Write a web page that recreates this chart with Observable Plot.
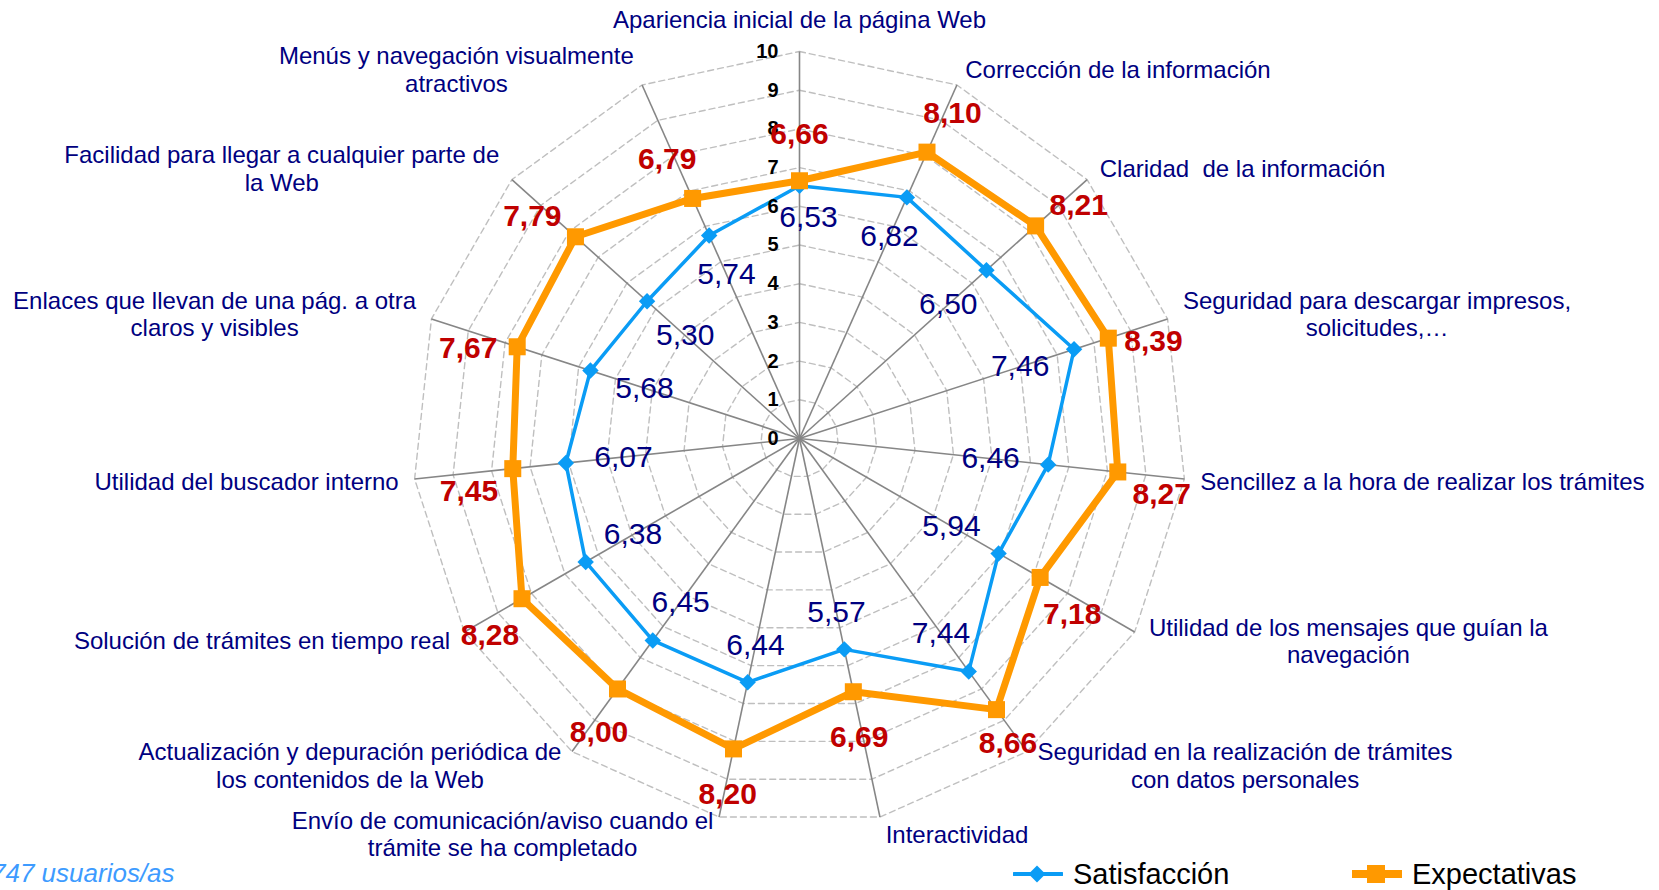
<!DOCTYPE html>
<html><head><meta charset="utf-8">
<script src="https://cdn.jsdelivr.net/npm/d3@7"></script>
<script src="https://cdn.jsdelivr.net/npm/@observablehq/plot@0.6"></script>
<style>
html,body{margin:0;padding:0;background:#fff;overflow:hidden}
#wrap{position:relative;width:1659px;height:890px;font-family:"Liberation Sans",Arial,sans-serif}
#chart{position:absolute;left:0;top:0}
#caption{position:absolute;left:-9px;top:858px;font-size:26px;font-style:italic;color:#3d9bff;white-space:nowrap}
.leg{position:absolute;top:855px;display:flex;align-items:center;font-size:29px;color:#000;white-space:nowrap;height:38px}
.leg svg{margin-right:10px}
</style></head>
<body><div id="wrap"><div id="chart"></div>
<div id="caption"></div>
<div class="leg" id="leg0" style="left:1013px"></div>
<div class="leg" id="leg1" style="left:1352px"></div>
</div>
<script>
// ---- data ----
const categories = [
  "Apariencia inicial de la página Web",
  "Corrección de la información",
  "Claridad  de la información",
  "Seguridad para descargar impresos,\nsolicitudes,…",
  "Sencillez a la hora de realizar los trámites",
  "Utilidad de los mensajes que guían la\nnavegación",
  "Seguridad en la realización de trámites\ncon datos personales",
  "Interactividad",
  "Envío de comunicación/aviso cuando el\ntrámite se ha completado",
  "Actualización y depuración periódica de\nlos contenidos de la Web",
  "Solución de trámites en tiempo real",
  "Utilidad del buscador interno",
  "Enlaces que llevan de una pág. a otra\nclaros y visibles",
  "Facilidad para llegar a cualquier parte de\nla Web",
  "Menús y navegación visualmente\natractivos"
];
const satisfaccion = [6.53, 6.82, 6.50, 7.46, 6.46, 5.94, 7.44, 5.57, 6.44, 6.45, 6.38, 6.07, 5.68, 5.30, 5.74];
const expectativas = [6.66, 8.10, 8.21, 8.39, 8.27, 7.18, 8.66, 6.69, 8.20, 8.00, 8.28, 7.45, 7.67, 7.79, 6.79];
const tickValues = [0, 1, 2, 3, 4, 5, 6, 7, 8, 9, 10];
const seriesNames = ["Satisfacción", "Expectativas"];
const captionText = "747 usuarios/as";

// ---- layout ----
const W = 1659, H = 890, CX = 799, CY = 438, UNIT = 38.7, RMAX = 10;
const CAT_FS = 24, CAT_LH = 1.16, VAL_FS = 30, TICK_FS = 20, TICK_DX = -21;
const n = categories.length;
const ang = i => i * 2 * Math.PI / n;
const px = (r, i) => r * Math.sin(ang(i));
const py = (r, i) => r * Math.cos(ang(i));
const toPx = (x, y) => [CX + x * UNIT, CY - y * UNIT];
const fmt = v => v.toFixed(2).replace(".", ",");

const COL_SAT = "#0a9cf5", COL_EXP = "#ff9900", COL_NAVY = "#000080", COL_RED = "#c00000";

const canvas = document.createElement("canvas");
const ctx = canvas.getContext("2d");
const measure = (s, font) => { ctx.font = font; return Math.max(...s.split("\n").map(l => ctx.measureText(l).width)); };
const overlap = (a, b) => Math.abs(a.cx - b.cx) < (a.w + b.w) / 2 && Math.abs(a.cy - b.cy) < (a.h + b.h) / 2;

const axesIdx = d3.range(n);
const rings = tickValues.filter(t => t > 0).flatMap(k => axesIdx.map(i => ({k, x: px(k, i), y: py(k, i)})));

// category labels: placed just outside the end of each spoke
const catData = categories.map((label, i) => {
  const s = Math.sin(ang(i)), c = Math.cos(ang(i));
  const w = measure(label, `${CAT_FS}px 'Liberation Sans'`);
  const lines = label.split("\n").length;
  let x, y;
  if (Math.abs(s) < 0.05) {
    x = 0; y = RMAX * c + (32 * Math.sign(c)) / UNIT;
  } else {
    const gap = 3 + 13 * Math.abs(s);
    x = RMAX * s + Math.sign(s) * (gap + w / 2) / UNIT;
    y = RMAX * c + (17 * c) / UNIT;
  }
  const [cx, cy] = toPx(x, y);
  return {label, x, y, box: {cx, cy, w, h: lines * CAT_FS * CAT_LH}};
});
const catBoxes = catData.map(d => d.box);
const tickBoxes = tickValues.map(t => {
  const w = measure(String(t), `bold ${TICK_FS}px 'Liberation Sans'`);
  const [X, Y] = toPx(0, t);
  return {cx: X + TICK_DX - w / 2, cy: Y, w, h: 15};
});

// value labels (radial/tangential offset from the point, pulled in if colliding)
function labelPos(v, i, radial, tang, font, avoid, step) {
  const s = Math.sin(ang(i)), c = Math.cos(ang(i));
  const txt = fmt(v), w = measure(txt, font);
  let k = radial, t = tang, X, Y;
  for (let iter = 0; iter < 40; iter++) {
    // screen px: radial unit (s, -c), clockwise tangent (c, s)
    const [PX, PY] = toPx(px(v, i), py(v, i));
    X = PX + k * s + t * c;
    Y = PY - k * c + t * s;
    const box = {cx: X, cy: Y, w, h: 22};
    if (!avoid.some(b => overlap(box, b))) break;
    if (step.k) k += step.k; if (step.x) { X += step.x; }
    if (step.x) { t += step.x * c; k += step.x * s; }
  }
  return {txt, x: (X - CX) / UNIT, y: (CY - Y) / UNIT};
}
const satData = satisfaccion.map((v, i) => ({i, v, x: px(v, i), y: py(v, i)}));
const expData = expectativas.map((v, i) => ({i, v, x: px(v, i), y: py(v, i)}));
const satLabels = satisfaccion.map((v, i) =>
  labelPos(v, i, -(32 + 26 * Math.abs(Math.sin(ang(i)))), 0, `${VAL_FS}px 'Liberation Sans'`, tickBoxes, {x: 1}));
const expLabels = expectativas.map((v, i) =>
  labelPos(v, i, 46, 18 * Math.sin(ang(i)), `bold ${VAL_FS}px 'Liberation Sans'`, catBoxes, {k: -1}));

const chart = Plot.plot({
  width: W, height: H,
  margin: 0,
  x: {domain: [-CX / UNIT, (W - CX) / UNIT], axis: null},
  y: {domain: [-(H - CY) / UNIT, CY / UNIT], axis: null},
  style: {fontFamily: "'Liberation Sans', Arial, sans-serif", background: "transparent"},
  marks: [
    Plot.line(rings, {x: "x", y: "y", z: "k", curve: "linear-closed", stroke: "#bfbfbf", strokeWidth: 1.4, strokeDasharray: "6,4"}),
    Plot.link(axesIdx, {x1: () => 0, y1: () => 0, x2: i => px(RMAX, i), y2: i => py(RMAX, i), stroke: "#868686", strokeWidth: 1.6}),
    Plot.line(satData, {x: "x", y: "y", curve: "linear-closed", stroke: COL_SAT, strokeWidth: 3.5, strokeLinejoin: "round"}),
    Plot.dot(satData, {x: "x", y: "y", symbol: "diamond2", r: 7.4, fill: COL_SAT, stroke: "none"}),
    Plot.line(expData, {x: "x", y: "y", curve: "linear-closed", stroke: COL_EXP, strokeWidth: 7, strokeLinejoin: "round"}),
    Plot.dot(expData, {x: "x", y: "y", symbol: "square", r: 9.6, fill: COL_EXP, stroke: "none"}),
    Plot.text(tickValues, {x: () => 0, y: d => d, text: d => String(d), textAnchor: "end", dx: TICK_DX, fontWeight: "bold", fontSize: TICK_FS, fill: "#000"}),
    Plot.text(satLabels, {x: "x", y: "y", text: "txt", fill: COL_NAVY, fontSize: VAL_FS}),
    Plot.text(expLabels, {x: "x", y: "y", text: "txt", fill: COL_RED, fontSize: VAL_FS, fontWeight: "bold"}),
    Plot.text(catData, {x: "x", y: "y", text: "label", fill: COL_NAVY, fontSize: CAT_FS, lineHeight: CAT_LH, textAnchor: "middle"})
  ]
});
document.getElementById("chart").appendChild(chart);

document.getElementById("caption").textContent = captionText;
const swatch = (color, lw, shape) => {
  const mk = shape === "diamond"
    ? `<rect x="18" y="12" width="12" height="12" fill="${color}" transform="rotate(45 24 18)"/>`
    : `<rect x="15" y="9" width="18" height="18" fill="${color}"/>`;
  return `<svg width="50" height="36" viewBox="0 0 50 36"><line x1="1" y1="18" x2="49" y2="18" stroke="${color}" stroke-width="${lw}" stroke-linecap="round"/>${mk}</svg>`;
};
document.getElementById("leg0").innerHTML = swatch(COL_SAT, 4, "diamond") + `<span>${seriesNames[0]}</span>`;
document.getElementById("leg1").innerHTML = swatch(COL_EXP, 8, "square") + `<span>${seriesNames[1]}</span>`;
</script>
</body></html>
